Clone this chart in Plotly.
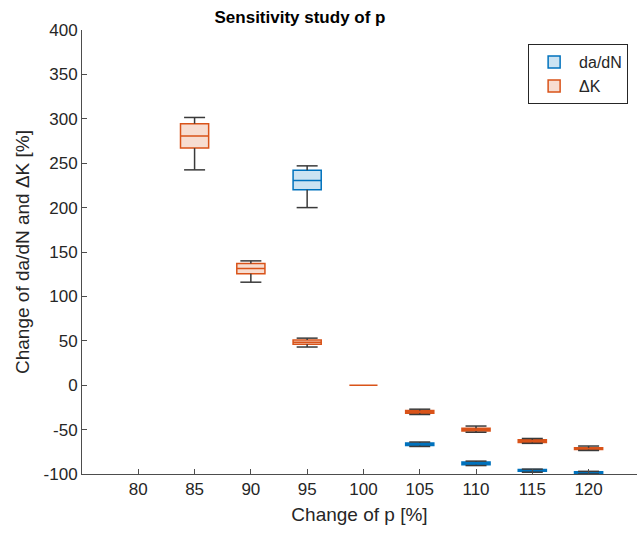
import plotly.graph_objects as go

# ---- data ----
tick_vals = [80, 85, 90, 95, 100, 105, 110, 115, 120]
y_ticks = [-100, -50, 0, 50, 100, 150, 200, 250, 300, 350, 400]

# da/dN series
dadn_x   = [95, 105, 110, 115, 120]
dadn_lo  = [200.0, -69.0, -90.5, -98.0, -100.0]
dadn_q1  = [220.0, -68.0, -89.5, -97.0, -99.5]
dadn_med = [230.5, -66.5, -88.0, -96.0, -98.5]
dadn_q3  = [242.0, -65.0, -86.5, -95.0, -97.5]
dadn_hi  = [247.0, -64.0, -85.5, -94.5, -97.0]

# Delta K series
dk_x   = [85, 90, 95, 100, 105, 110, 115, 120]
dk_lo  = [242.5, 116.0, 43.0, 0, -33.0, -53.0, -65.5, -73.5]
dk_q1  = [267.0, 125.5, 46.0, 0, -31.5, -51.5, -64.5, -72.5]
dk_med = [280.5, 131.5, 48.5, 0, -30.0, -50.0, -63.0, -71.5]
dk_q3  = [294.5, 137.0, 51.0, 0, -28.5, -48.5, -61.5, -70.5]
dk_hi  = [301.5, 140.0, 53.0, 0, -27.0, -46.0, -60.0, -68.5]

BLUE = "#0072BD"
ORANGE = "#D95319"
WHISK = "#3A3A3A"
AX = "#4D4D4D"
TXT = "#262626"
FONT = "Liberation Sans, Arial, sans-serif"

fig = go.Figure()


def add_series(name, xs, lo, q1, med, q3, hi, line, fill):
    fig.add_trace(go.Box(
        name=name, x=xs, q1=q1, median=med, q3=q3,
        lowerfence=q1, upperfence=q3,
        width=2.5, line=dict(color=line, width=1.5), fillcolor=fill,
        boxpoints=False, showlegend=True,
    ))
    wx, wy, cx, cy = [], [], [], []
    for x, a, b, c, d in zip(xs, lo, q1, q3, hi):
        if a == d:
            continue
        wx += [x, x, None, x, x, None]
        wy += [c, d, None, b, a, None]
        cx += [x, x]
        cy += [d, a]
    fig.add_trace(go.Scatter(x=wx, y=wy, mode="lines", line=dict(color=WHISK, width=1.5),
                             showlegend=False, hoverinfo="skip"))
    fig.add_trace(go.Scatter(x=cx, y=cy, mode="markers",
                             marker=dict(symbol="line-ew", size=15,
                                         line=dict(color=WHISK, width=1.5)),
                             showlegend=False, hoverinfo="skip"))


add_series("da/dN", dadn_x, dadn_lo, dadn_q1, dadn_med, dadn_q3, dadn_hi,
           BLUE, "rgba(0,114,189,0.2)")
add_series("ΔK", dk_x, dk_lo, dk_q1, dk_med, dk_q3, dk_hi,
           ORANGE, "rgba(217,83,25,0.2)")

fig.update_layout(
    width=637, height=533,
    margin=dict(l=82, r=0, t=30, b=59),
    paper_bgcolor="white", plot_bgcolor="white",
    font=dict(family=FONT, color=TXT, size=17),
    title=dict(text="<b>Sensitivity study of p</b>", x=300 / 637, xref="container",
               xanchor="center", y=1 - 17 / 533, yref="container", yanchor="middle",
               font=dict(size=17, color="black")),
    boxmode="overlay",
    legend=dict(x=0.984, y=0.968, xanchor="right", yanchor="top",
                bgcolor="white", bordercolor=TXT, borderwidth=1, itemwidth=40,
                font=dict(size=16, color=TXT), traceorder="normal"),
    xaxis=dict(range=[75, 124.3], tickmode="array", tickvals=tick_vals,
               ticktext=[str(v) for v in tick_vals],
               showgrid=False, zeroline=False, showline=True, linecolor=AX, linewidth=1,
               ticks="inside", ticklen=5, tickcolor=AX,
               title=dict(text="Change of p [%]", font=dict(size=19), standoff=9),
               tickfont=dict(size=17)),
    yaxis=dict(range=[-100, 400], tickmode="array", tickvals=y_ticks,
               ticktext=[str(v) for v in y_ticks],
               showgrid=False, zeroline=False, showline=True, linecolor=AX, linewidth=1,
               ticks="inside", ticklen=5, tickcolor=AX,
               title=dict(text="Change of da/dN and ΔK [%]", font=dict(size=19), standoff=8),
               tickfont=dict(size=17)),
)

fig.write_html("out.html")
